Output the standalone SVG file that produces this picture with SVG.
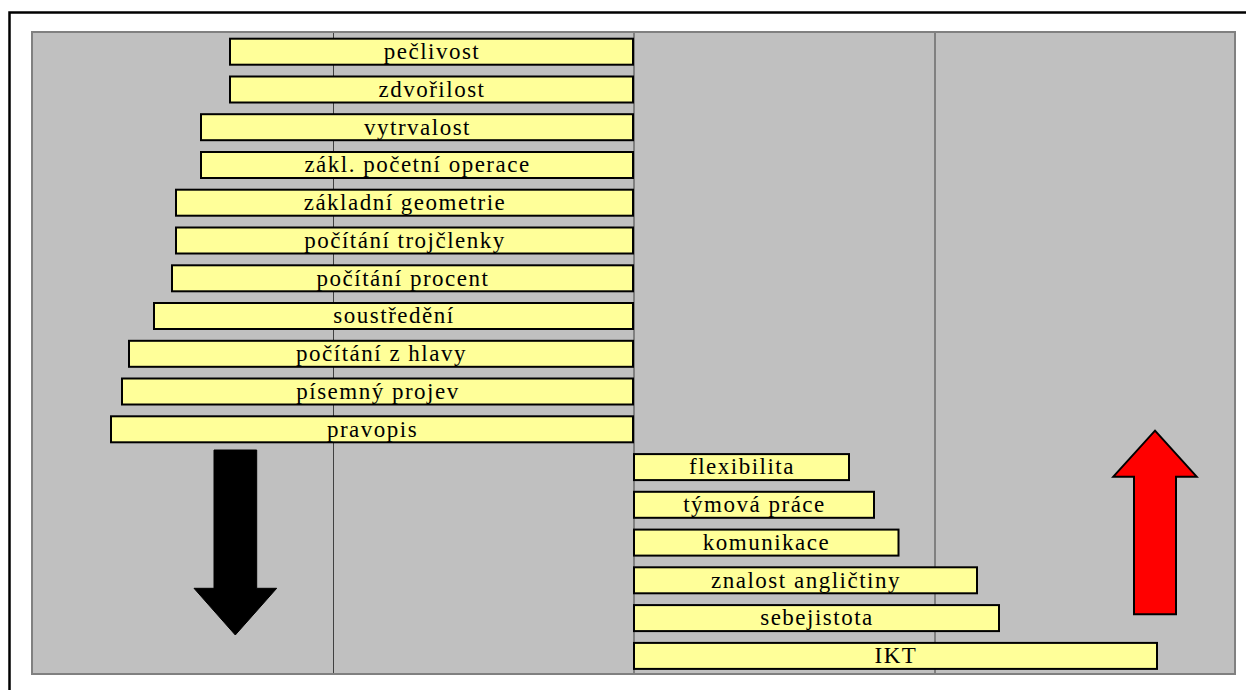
<svg xmlns="http://www.w3.org/2000/svg" width="1246" height="690" viewBox="0 0 1246 690">
<style>
.bar{fill:#FFFF99;stroke:#000;stroke-width:2}
.lbl{font-family:"Liberation Serif","Times New Roman",serif;font-size:23px;fill:#000;text-anchor:middle;letter-spacing:1.5px}
.grid{stroke:#404040;stroke-width:1}
</style>
<rect x="0" y="0" width="1246" height="690" fill="#fff"/>
<rect x="9.5" y="12.5" width="1260" height="700" fill="none" stroke="#000" stroke-width="2.5"/>
<rect id="plot" x="32" y="32" width="1203" height="642" fill="#C0C0C0" stroke="#808080" stroke-width="2"/>
<g id="gridlines">
<line class="grid" x1="333.5" y1="33" x2="333.5" y2="673"/>
<line class="grid" x1="634" y1="33" x2="634" y2="673"/>
<line class="grid" x1="935" y1="33" x2="935" y2="673"/>
</g>
<g id="n1"><rect class="bar" x="230" y="38.7" width="403" height="26"/><text class="lbl" x="432" y="59">pečlivost</text></g>
<g id="n2"><rect class="bar" x="230" y="76.5" width="403" height="26"/><text class="lbl" x="432" y="96.8">zdvořilost</text></g>
<g id="n3"><rect class="bar" x="201" y="114.2" width="432" height="26"/><text class="lbl" x="417.5" y="134.5">vytrvalost</text></g>
<g id="n4"><rect class="bar" x="201" y="152" width="432" height="26"/><text class="lbl" x="417.5" y="172.3">zákl. početní operace</text></g>
<g id="n5"><rect class="bar" x="176" y="189.7" width="457" height="26"/><text class="lbl" x="405" y="210">základní geometrie</text></g>
<g id="n6"><rect class="bar" x="176" y="227.5" width="457" height="26"/><text class="lbl" x="405" y="247.8">počítání trojčlenky</text></g>
<g id="n7"><rect class="bar" x="172" y="265.3" width="461" height="26"/><text class="lbl" x="403" y="285.6">počítání procent</text></g>
<g id="n8"><rect class="bar" x="154" y="303" width="479" height="26"/><text class="lbl" x="394" y="323.3">soustředění</text></g>
<g id="n9"><rect class="bar" x="129" y="340.8" width="504" height="26"/><text class="lbl" x="381.5" y="361.1">počítání z hlavy</text></g>
<g id="n10"><rect class="bar" x="122" y="378.5" width="511" height="26"/><text class="lbl" x="378" y="398.8">písemný projev</text></g>
<g id="n11"><rect class="bar" x="111" y="416.3" width="522" height="26"/><text class="lbl" x="372.5" y="436.6">pravopis</text></g>
<g id="n12"><rect class="bar" x="634" y="454.1" width="215" height="26"/><text class="lbl" x="742" y="474.4">flexibilita</text></g>
<g id="n13"><rect class="bar" x="634" y="491.8" width="240" height="26"/><text class="lbl" x="754.5" y="512.1">týmová práce</text></g>
<g id="n14"><rect class="bar" x="634" y="529.6" width="264.5" height="26"/><text class="lbl" x="766.5" y="549.9">komunikace</text></g>
<g id="n15"><rect class="bar" x="634" y="567.3" width="343" height="26"/><text class="lbl" x="806" y="587.6">znalost angličtiny</text></g>
<g id="n16"><rect class="bar" x="634" y="605.1" width="365" height="26"/><text class="lbl" x="817" y="625.4">sebejistota</text></g>
<g id="n17"><rect class="bar" x="634" y="642.9" width="523" height="26"/><text class="lbl" x="896" y="663.2">IKT</text></g>
<g id="arrows">
<polygon id="down-arrow" points="214,450 256.7,450 256.7,588.3 276.7,588.3 235.3,635 194,588.3 214,588.3" fill="#000" stroke="#000" stroke-width="1"/>
<polygon id="up-arrow" points="1155,430.7 1196.7,476.7 1176,476.7 1176,614.3 1134,614.3 1134,476.7 1113.3,476.7" fill="#FF0000" stroke="#000" stroke-width="2" stroke-linejoin="miter"/>
</g>
</svg>
